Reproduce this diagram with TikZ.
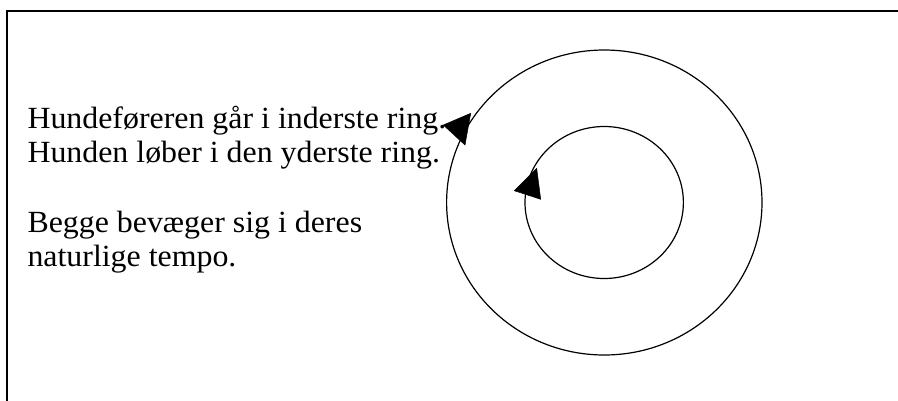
\documentclass[tikz,border=0pt]{standalone}
\usepackage{fontspec}
\setmainfont{Liberation Serif}
\begin{document}
\begin{tikzpicture}[x=1pt,y=-1pt,
  txt/.style={anchor=base west,inner sep=0pt,xscale=1.035,transform shape,font=\fontsize{30.8}{30}\selectfont},
  ring/.style={draw=black,line width=1.2pt},
  head/.style={fill=black,draw=black,line width=0.5pt,line join=miter}]
\useasboundingbox (0,0) rectangle (898,400);
\clip (0,0) rectangle (898,400);
\draw[line width=1.6pt] (6.7,410) -- (6.7,10.8) -- (910,10.8);
\draw[ring] (604.3,202.5) ellipse [x radius=157.7, y radius=152.5];
\draw[ring] (604.2,202.5) ellipse [x radius=79.2, y radius=76];
\node[txt] (l1) at (27.3,128) {Hundeføreren går i inderste ring.};
\node[txt] (l2) at (27.3,162.5) {Hunden løber i den yderste ring.};
\node[txt] (l3) at (27.3,232) {Begge bevæger sig i deres};
\node[txt] (l4) at (27.3,266.5) {naturlige tempo.};
\coordinate (ot) at (443.3,125);
\coordinate (oa) at (470.7,113.3);
\coordinate (ob) at (465,145);
\fill[head] (ot) -- (oa) -- (ob) -- cycle;
\coordinate (it) at (536.7,168.3);
\coordinate (ia) at (514.3,190.7);
\coordinate (ib) at (540.7,199.3);
\fill[head] (it) -- (ia) -- (ib) -- cycle;
\end{tikzpicture}
\end{document}
